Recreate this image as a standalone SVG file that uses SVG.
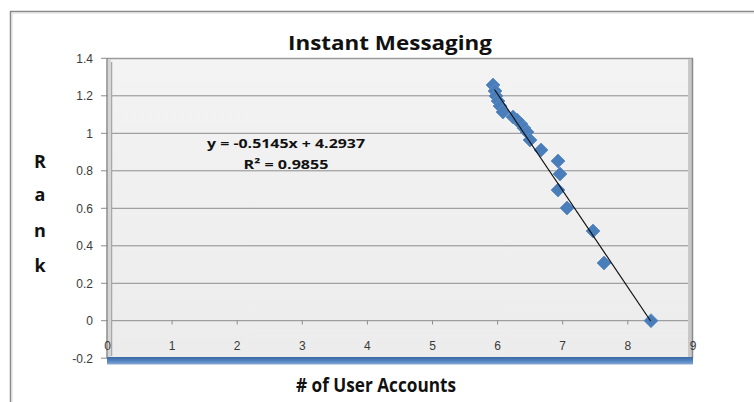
<svg xmlns="http://www.w3.org/2000/svg" width="754" height="402" viewBox="0 0 754 402">
<defs>
<style>
.lbl{font-family:"Liberation Sans","Open Sans",Arial,sans-serif;font-size:12px;fill:#3a3a3a}
.ttl{font-family:"Open Sans","Liberation Sans",Arial,sans-serif;font-weight:bold;fill:#111}
.grid{stroke:#8c8c8c;stroke-width:1}
.tick{stroke:#8c8c8c;stroke-width:1}
.pt{fill:#4a7ebb;stroke:#5b8ac4;stroke-width:0.8}
</style>
<linearGradient id="plotbg" x1="0" y1="0" x2="0" y2="1">
<stop offset="0" stop-color="#f3f3f3"/>
<stop offset="1" stop-color="#ececec"/>
</linearGradient>
<linearGradient id="floor" x1="0" y1="0" x2="0" y2="1">
<stop offset="0" stop-color="#3b6aa6"/>
<stop offset="0.5" stop-color="#4f81bd"/>
<stop offset="1" stop-color="#7ea3d3"/>
</linearGradient>
<path id="dia" d="M0,-7 L7,0 L0,7 L-7,0 Z"/>
</defs>

<rect x="0" y="0" width="754" height="402" fill="#ffffff"/>
<!-- chart frame -->
<path d="M10.5,402 V11.5 H754" fill="none" stroke="#8a8a8a" stroke-width="1.5"/>
<path d="M12,402 V13 H754" fill="none" stroke="#d8d8d8" stroke-width="1"/>

<!-- title -->
<text class="ttl" x="390" y="50" font-size="20" text-anchor="middle" textLength="204" lengthAdjust="spacingAndGlyphs">Instant Messaging</text>

<!-- plot area -->
<g id="plot">
<rect x="107" y="58" width="586" height="300" fill="url(#plotbg)"/>
<g class="grid">
<line x1="101" y1="95.8" x2="691" y2="95.8"/>
<line x1="101" y1="133.3" x2="691" y2="133.3"/>
<line x1="101" y1="170.8" x2="691" y2="170.8"/>
<line x1="101" y1="208.3" x2="691" y2="208.3"/>
<line x1="101" y1="245.8" x2="691" y2="245.8"/>
<line x1="101" y1="283.3" x2="691" y2="283.3"/>
<line x1="101" y1="320.7" x2="691" y2="320.7"/>
<line x1="101" y1="58.3" x2="107" y2="58.3"/>
<line x1="101" y1="358.2" x2="107" y2="358.2"/>
</g>
<!-- walls / borders -->
<path d="M107,58.5 H693" stroke="#9a9a9a" stroke-width="1.5" fill="none"/>
<line x1="107" y1="58" x2="107" y2="358" stroke="#8a8a8a" stroke-width="1.5"/>
<line x1="111.5" y1="62" x2="111.5" y2="356" stroke="#a8a8a8" stroke-width="1.5"/>
<rect x="108" y="59" width="3" height="298" fill="#d6d6d6"/>
<rect x="688" y="59" width="4" height="299" fill="#c8c8c8"/>
<line x1="692.5" y1="58" x2="692.5" y2="358" stroke="#8a8a8a" stroke-width="1.5"/>
<!-- x ticks -->
<g class="tick">
<line x1="172.1" y1="320.7" x2="172.1" y2="324.5"/>
<line x1="237.2" y1="320.7" x2="237.2" y2="324.5"/>
<line x1="302.3" y1="320.7" x2="302.3" y2="324.5"/>
<line x1="367.4" y1="320.7" x2="367.4" y2="324.5"/>
<line x1="432.5" y1="320.7" x2="432.5" y2="324.5"/>
<line x1="497.6" y1="320.7" x2="497.6" y2="324.5"/>
<line x1="562.7" y1="320.7" x2="562.7" y2="324.5"/>
<line x1="627.8" y1="320.7" x2="627.8" y2="324.5"/>
</g>
<!-- floor band -->
<rect x="107" y="357" width="586" height="7" fill="url(#floor)"/>
<line x1="107" y1="364.5" x2="693" y2="364.5" stroke="#c9d6e8" stroke-width="1"/>
</g>

<!-- y labels -->
<g class="lbl" text-anchor="end">
<text x="93" y="62.5">1.4</text>
<text x="93" y="100">1.2</text>
<text x="93" y="137.5">1</text>
<text x="93" y="175">0.8</text>
<text x="93" y="212.5">0.6</text>
<text x="93" y="250">0.4</text>
<text x="93" y="287.5">0.2</text>
<text x="93" y="325">0</text>
<text x="93" y="362.5">-0.2</text>
</g>
<!-- x labels -->
<g class="lbl" text-anchor="middle" font-size="13">
<text x="107.5" y="350">0</text>
<text x="172.1" y="350">1</text>
<text x="237.2" y="350">2</text>
<text x="302.3" y="350">3</text>
<text x="367.4" y="350">4</text>
<text x="432.5" y="350">5</text>
<text x="497.6" y="350">6</text>
<text x="562.7" y="350">7</text>
<text x="627.8" y="350">8</text>
<text x="693" y="350">9</text>
</g>

<!-- axis titles -->
<text class="ttl" x="376" y="392" font-size="19" text-anchor="middle" textLength="160" lengthAdjust="spacingAndGlyphs"># of User Accounts</text>
<g class="ttl" font-size="18" text-anchor="middle">
<text x="40" y="168">R</text>
<text x="40" y="201">a</text>
<text x="40" y="237">n</text>
<text x="40" y="272">k</text>
</g>

<!-- equation -->
<text class="ttl" x="286" y="148" font-size="13" text-anchor="middle" textLength="158" lengthAdjust="spacingAndGlyphs">y = -0.5145x + 4.2937</text>
<text class="ttl" x="286" y="169" font-size="13" text-anchor="middle" textLength="85" lengthAdjust="spacingAndGlyphs">R² = 0.9855</text>

<!-- data points -->
<g id="series">
<use href="#dia" class="pt" x="493" y="85"/>
<use href="#dia" class="pt" x="495" y="91"/>
<use href="#dia" class="pt" x="496" y="96"/>
<use href="#dia" class="pt" x="498" y="101"/>
<use href="#dia" class="pt" x="500" y="106"/>
<use href="#dia" class="pt" x="503" y="112"/>
<use href="#dia" class="pt" x="513" y="117"/>
<use href="#dia" class="pt" x="517" y="120"/>
<use href="#dia" class="pt" x="521" y="124"/>
<use href="#dia" class="pt" x="524" y="128"/>
<use href="#dia" class="pt" x="527" y="132"/>
<use href="#dia" class="pt" x="530" y="140"/>
<use href="#dia" class="pt" x="541" y="150"/>
<use href="#dia" class="pt" x="558" y="161"/>
<use href="#dia" class="pt" x="560" y="174"/>
<use href="#dia" class="pt" x="558" y="190"/>
<use href="#dia" class="pt" x="567" y="208"/>
<use href="#dia" class="pt" x="593" y="231"/>
<use href="#dia" class="pt" x="604" y="263"/>
<use href="#dia" class="pt" x="651" y="320.7"/>
</g>
<!-- trend line -->
<g id="connectors">
<line x1="494.5" y1="89.5" x2="650.6" y2="321" stroke="#111" stroke-width="1.2"/>
</g>
</svg>
